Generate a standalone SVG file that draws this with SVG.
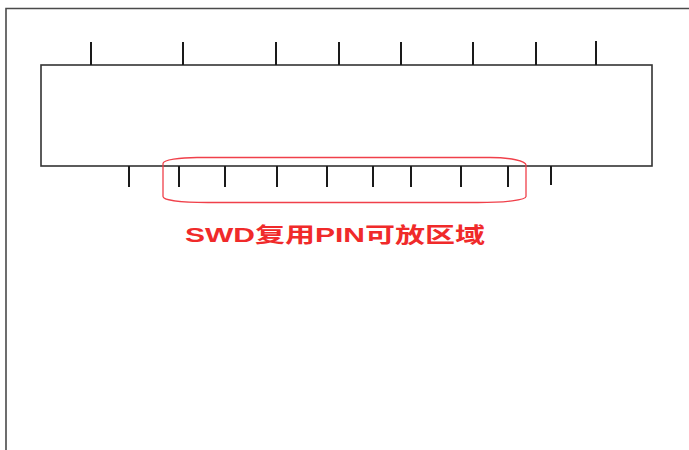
<svg xmlns="http://www.w3.org/2000/svg" width="689" height="450" viewBox="0 0 689 450">
<style>
.frame{fill:none;stroke:#4a4a4a;stroke-width:1.6}
.body{fill:#fff;stroke:#333;stroke-width:1.6}
.pin{stroke:#1a1a1a;stroke-width:2}
.zone{fill:none;stroke:#f0404a;stroke-width:1.3}
.lbl{font-family:"Liberation Sans","Noto Sans CJK SC",sans-serif;font-weight:bold;font-size:21px;fill:#f02a2a}
</style>
<rect width="689" height="450" fill="#fff"/>
<path class="frame" d="M6,450 V8.5 H689"/>
<g id="chip">
<rect class="body" x="41" y="65" width="611" height="101"/>
</g>
<g id="connectors">
<g id="top-pins">
<line class="pin" x1="91" y1="42" x2="91" y2="65"/>
<line class="pin" x1="183" y1="42" x2="183" y2="65"/>
<line class="pin" x1="276" y1="42" x2="276" y2="65"/>
<line class="pin" x1="339" y1="42" x2="339" y2="65"/>
<line class="pin" x1="401" y1="42" x2="401" y2="65"/>
<line class="pin" x1="473" y1="42" x2="473" y2="65"/>
<line class="pin" x1="536" y1="42" x2="536" y2="65"/>
<line class="pin" x1="596" y1="41" x2="596" y2="65"/>
</g>
<g id="bottom-pins">
<line class="pin" x1="129" y1="166" x2="129" y2="187"/>
<line class="pin" x1="179" y1="166" x2="179" y2="187"/>
<line class="pin" x1="225" y1="166" x2="225" y2="187"/>
<line class="pin" x1="277" y1="166" x2="277" y2="187"/>
<line class="pin" x1="327" y1="166" x2="327" y2="187"/>
<line class="pin" x1="373" y1="166" x2="373" y2="187"/>
<line class="pin" x1="411" y1="166" x2="411" y2="187"/>
<line class="pin" x1="461" y1="166" x2="461" y2="187"/>
<line class="pin" x1="508" y1="166" x2="508" y2="187"/>
<line class="pin" x1="551" y1="166" x2="551" y2="185"/>
</g>
</g>
<g id="swd-zone">
<path class="zone" d="M197,157.5 H490 C510,157.5 526,161 526,165 V196.5 C526,200 505,202.5 478,202.5 H208 C180,202.5 163,200 163,196.5 V163.5 C163,160 180,157.5 197,157.5 Z"/>
<text class="lbl" x="185" y="242" textLength="300" lengthAdjust="spacingAndGlyphs">SWD复用PIN可放区域</text>
</g>
</svg>
